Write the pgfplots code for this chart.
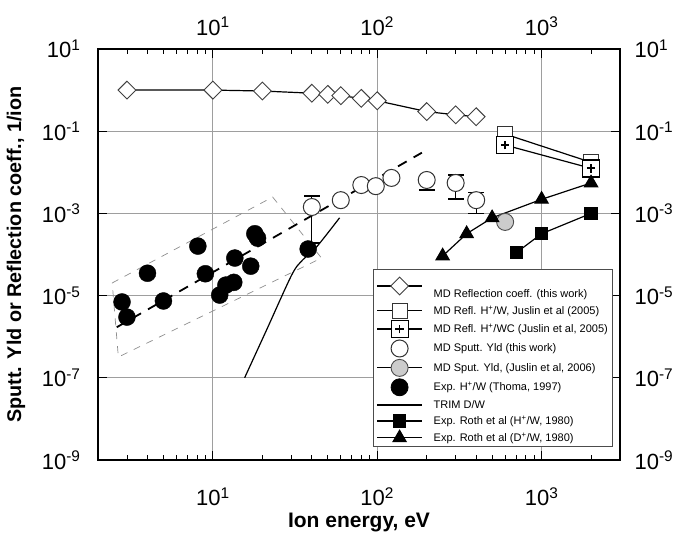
\documentclass[border=0pt]{standalone}
\usepackage{pgfplots}
\pgfplotsset{compat=1.18}
\usepackage{fontspec}
\setmainfont{Liberation Sans}
\usetikzlibrary{plotmarks}
\definecolor{gridgray}{gray}{0.62}
\definecolor{circgray}{gray}{0.8}
\pgfdeclareplotmark{sqplus}{%
  \pgfpathrectangle{\pgfpoint{-\pgfplotmarksize}{-\pgfplotmarksize}}{\pgfpoint{2\pgfplotmarksize}{2\pgfplotmarksize}}%
  \pgfusepathqfillstroke
  \pgfsetlinewidth{1.8pt}%
  \pgfpathmoveto{\pgfpoint{-0.5\pgfplotmarksize}{0pt}}\pgfpathlineto{\pgfpoint{0.5\pgfplotmarksize}{0pt}}%
  \pgfpathmoveto{\pgfpoint{0pt}{-0.5\pgfplotmarksize}}\pgfpathlineto{\pgfpoint{0pt}{0.5\pgfplotmarksize}}%
  \pgfusepathqstroke}
\begin{document}
\begin{tikzpicture}
\useasboundingbox (-98pt,-74pt) rectangle (577pt,460pt);
\begin{axis}[
  scale only axis, width=522pt, height=411pt,
  xmode=log, ymode=log,
  xmin=2, xmax=3000, ymin=1e-9, ymax=10,
  xtick={10,100,1000},
  xticklabels={10\textsuperscript{1},10\textsuperscript{2},10\textsuperscript{3}},
  minor xtick={3,4,5,6,7,8,9,20,30,40,50,60,70,80,90,200,300,400,500,600,700,800,900,2000},
  ytick={1e1,1e-1,1e-3,1e-5,1e-7,1e-9},
  yticklabels={10\textsuperscript{1},10\textsuperscript{-1},10\textsuperscript{-3},10\textsuperscript{-5},10\textsuperscript{-7},10\textsuperscript{-9}},
  yminorticks=false,
  grid=major, major grid style={gridgray, line width=0.8pt},
  axis line style={line width=1.4pt},
  major tick length=9pt, minor tick length=5.5pt,
  major tick style={black, line width=1.2pt},
  minor tick style={black, line width=0.7pt},
  tick label style={font=\fontsize{22}{24}\selectfont},
  xticklabel style={yshift=-24pt},
  yticklabel style={xshift=-14pt},
  xlabel={Ion energy, eV},
  ylabel={Sputt. Yld or Reflection coeff., 1/ion},
  xlabel style={font=\bfseries\fontsize{21}{24}\selectfont, at={(axis description cs:0.5,-0.151)}, anchor=center},
  ylabel style={font=\bfseries\fontsize{19.8}{22}\selectfont, at={(axis description cs:-0.157,0.5)}, anchor=center},
  legend image code/.code={\draw[mark repeat=2,mark phase=2,#1] plot coordinates {(0pt,0pt) (22.5pt,0pt) (45pt,0pt)};},
  legend style={at={(0.527,0.465)}, anchor=north west, draw=black!70, line width=0.8pt,
    font=\fontsize{11}{13}\selectfont, fill=white, row sep=2.4pt, column sep=9pt},
  legend cell align=left,
]
% gray dashed box
\addplot[gridgray!90!black, line width=0.7pt, dash pattern=on 7pt off 7pt, forget plot]
  coordinates {(2.44,2.03e-5) (23.1,2.5e-3) (45.8,8.2e-5) (2.66,3.2e-7) (2.44,2.03e-5)};
% black dashed fit
\addplot[black, line width=1.8pt, dash pattern=on 10pt off 8pt, forget plot]
  coordinates {(2.6,1.7e-6) (187,0.030)};
% error bars
\addplot[black, line width=1.1pt, mark=-, mark size=8pt, unbounded coords=jump, forget plot]
  coordinates {(40,2.65e-3) (40,1.9e-4) (nan,nan) (200,6.5e-3) (200,3.7e-3) (nan,nan)
  (300,8.6e-3) (300,2.24e-3) (nan,nan) (400,3.3e-3) (400,1.0e-3)};
% MD reflection coeff
\addplot[black, line width=1.2pt, mark=square*, mark size=6.3pt,
  mark options={rotate=45, fill=white, draw=black!75, line width=0.9pt}]
  coordinates {(3,1.0) (10,1.0) (20,0.95) (40,0.84) (50,0.79) (60,0.73) (80,0.63) (100,0.55) (200,0.30) (300,0.25) (400,0.225)};
\addlegendentry{\rule{0pt}{24pt}MD Reflection coeff. (this work)}
% Juslin H/W
\addplot[black, line width=1.2pt, mark=square*, mark size=7.5pt,
  mark options={fill=white, draw=black!80, line width=1pt}]
  coordinates {(600,0.085) (2000,0.0175)};
\addlegendentry{MD Refl. H\textsuperscript{+}/W, Juslin et al  (2005)}
% Juslin H/WC
\addplot[black, line width=1.2pt, mark=sqplus, mark size=8.5pt,
  mark options={fill=white, draw=black, line width=1pt}]
  coordinates {(600,0.046) (2000,0.0125)};
\addlegendentry{MD Refl. H\textsuperscript{+}/WC (Juslin et al, 2005)}
% MD sputt yld this work
\addplot[only marks, mark=*, mark size=8.5pt, mark options={fill=white, draw=black!80, line width=1pt}]
  coordinates {(40,1.43e-3) (60,2.1e-3) (80,4.9e-3) (98,4.6e-3) (122,7.3e-3) (200,6.5e-3) (300,5.5e-3) (400,2.1e-3)};
\addlegendentry{MD Sputt. Yld (this work)}
% Juslin sput yld
\addplot[black, line width=1.2pt, mark=*, mark size=8.5pt, mark options={fill=circgray, draw=black!70, line width=0.9pt}]
  coordinates {(600,6.2e-4)};
\addlegendentry{MD Sput. Yld, (Juslin et al, 2006)}
% Thoma
\addplot[only marks, mark=*, mark size=8.5pt, mark options={fill=black, draw=black}]
  coordinates {(2.8,7.0e-6) (3.0,3.0e-6) (4.0,3.5e-5) (5.0,7.4e-6) (8.1,1.6e-4) (9.0,3.4e-5) (11.0,1.03e-5) (12.0,1.8e-5) (13.4,2.1e-5) (13.6,8.2e-5) (17,5.2e-5) (18,3.2e-4) (18.7,2.5e-4) (38,1.36e-4)};
\addlegendentry{Exp. H\textsuperscript{+}/W (Thoma, 1997)}
% TRIM
\addplot[black, line width=1.2pt, smooth]
  coordinates {(15.6,1.0e-7) (21.2,1.45e-6) (30.2,3.2e-5) (35.1,7.3e-5) (42.6,1.5e-4) (59,7.8e-4)};
\addlegendentry{TRIM D/W}
% Roth H
\addplot[black, line width=1.2pt, mark=square*, mark size=6pt]
  coordinates {(700,1.1e-4) (1000,3.2e-4) (2000,1.0e-3)};
\addlegendentry{Exp. Roth et al (H\textsuperscript{+}/W, 1980)}
% Roth D
\addplot[black, line width=1.2pt, mark=triangle*, mark size=7.5pt]
  coordinates {(250,9.2e-5) (350,3.2e-4) (500,7.8e-4) (1000,2.2e-3) (2000,5.5e-3)};
\addlegendentry{Exp. Roth et al (D\textsuperscript{+}/W, 1980)}
\end{axis}
\begin{axis}[
  scale only axis, width=522pt, height=411pt,
  xmode=log, ymode=log,
  xmin=2, xmax=3000, ymin=1e-9, ymax=10,
  xtick={10,100,1000},
  xticklabels={10\textsuperscript{1},10\textsuperscript{2},10\textsuperscript{3}},
  ytick={1e1,1e-1,1e-3,1e-5,1e-7,1e-9},
  yticklabels={10\textsuperscript{1},10\textsuperscript{-1},10\textsuperscript{-3},10\textsuperscript{-5},10\textsuperscript{-7},10\textsuperscript{-9}},
  xminorticks=false, yminorticks=false,
  xticklabel pos=upper, yticklabel pos=right,
  axis line style={draw=none}, major tick style={draw=none},
  tick label style={font=\fontsize{22}{24}\selectfont},
  xticklabel style={yshift=10pt},
  yticklabel style={xshift=11pt},
]
\addplot[draw=none] coordinates {(10,1)};
\end{axis}
\end{tikzpicture}
\end{document}
